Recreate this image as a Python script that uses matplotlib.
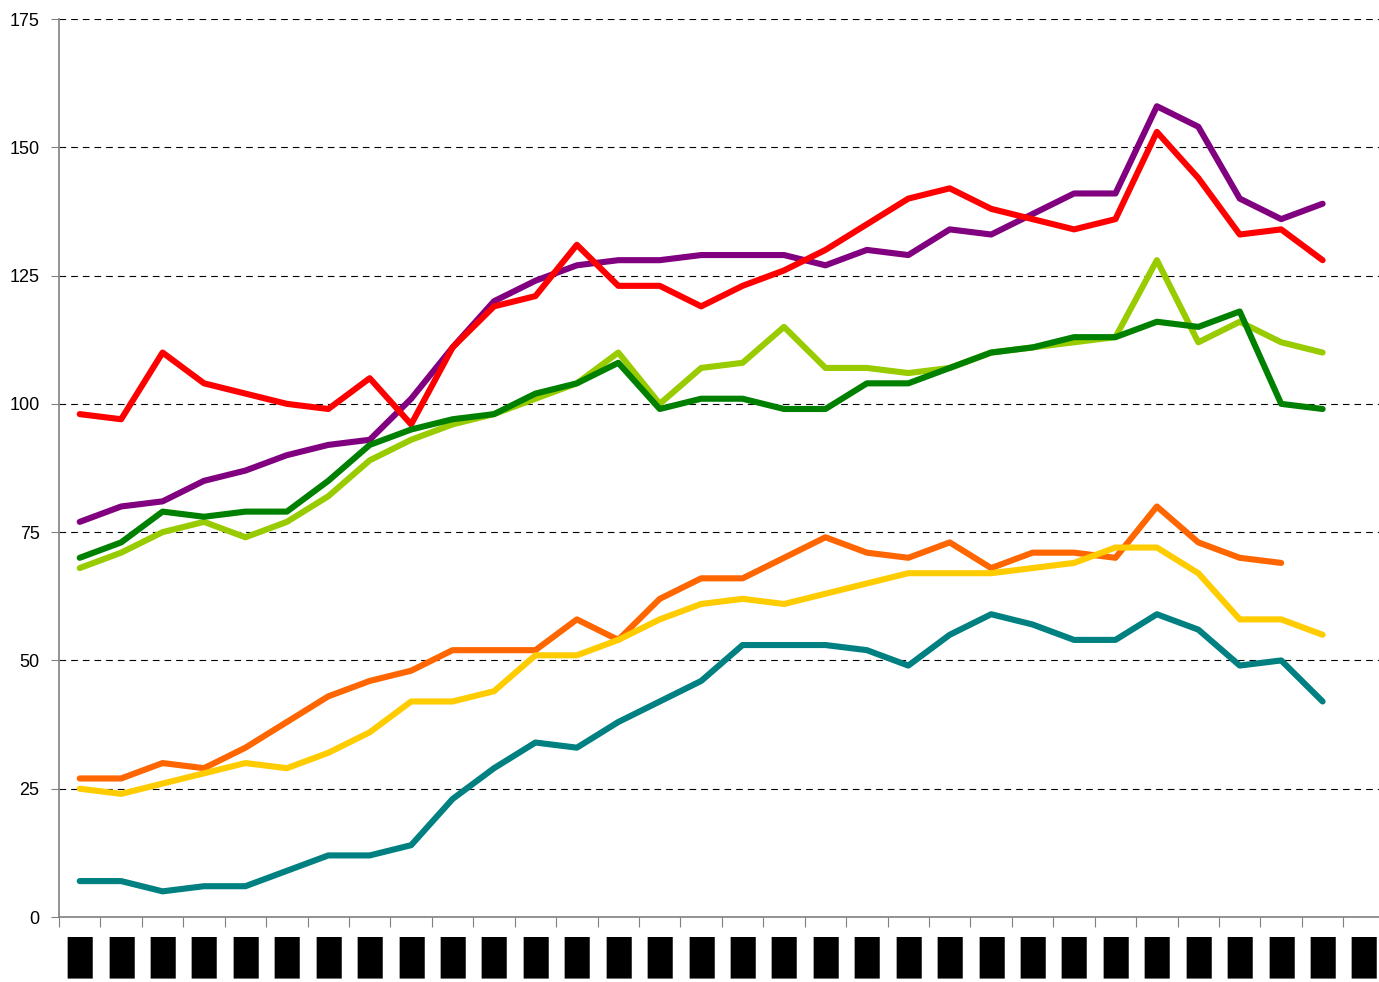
import numpy as np
import matplotlib
matplotlib.use("Agg")
import matplotlib.pyplot as plt
from matplotlib.textpath import TextPath
from matplotlib.font_manager import FontProperties

nan = np.nan
categories = ["\u2588"] * 32  # redacted labels in the source

purple = [77, 80, 81, 85, 87, 90, 92, 93, 101, 111, 120, 124, 127, 128, 128, 129, 129, 129,
          127, 130, 129, 134, 133, 137, 141, 141, 158, 154, 140, 136, 139]
red = [98, 97, 110, 104, 102, 100, 99, 105, 96, 111, 119, 121, 131, 123, 123, 119, 123, 126,
       130, 135, 140, 142, 138, 136, 134, 136, 153, 144, 133, 134, 128]
lightgreen = [68, 71, 75, 77, 74, 77, 82, 89, 93, 96, 98, 101, 104, 110, 100, 107, 108, 115,
              107, 107, 106, 107, 110, 111, 112, 113, 128, 112, 116, 112, 110]
darkgreen = [70, 73, 79, 78, 79, 79, 85, 92, 95, 97, 98, 102, 104, 108, 99, 101, 101, 99,
             99, 104, 104, 107, 110, 111, 113, 113, 116, 115, 118, 100, 99]
orange = [27, 27, 30, 29, 33, 38, 43, 46, 48, 52, 52, 52, 58, 54, 62, 66, 66, 70,
          74, 71, 70, 73, 68, 71, 71, 70, 80, 73, 70, 69, nan]
yellow = [25, 24, 26, 28, 30, 29, 32, 36, 42, 42, 44, 51, 51, 54, 58, 61, 62, 61,
          63, 65, 67, 67, 67, 68, 69, 72, 72, 67, 58, 58, 55]
teal = [7, 7, 5, 6, 6, 9, 12, 12, 14, 23, 29, 34, 33, 38, 42, 46, 53, 53,
        53, 52, 49, 55, 59, 57, 54, 54, 59, 56, 49, 50, 42]

series = [
    (purple, "#800080"),
    (red, "#FF0000"),
    (lightgreen, "#99CC00"),
    (darkgreen, "#008000"),
    (orange, "#FF6600"),
    (yellow, "#FFCC00"),
    (teal, "#008080"),
]

# choose a block glyph/font whose proportions match the redaction boxes (~26 x 42 px)
target_aspect = 26 / 42
best = None
for fam, stretch in [("DejaVu Sans", "normal"), ("DejaVu Sans", "condensed"),
                     ("DejaVu Sans Mono", "normal"), ("Liberation Mono", "normal"),
                     ("Liberation Sans", "normal")]:
    for ch in ["\u2588"]:
        try:
            fp = FontProperties(family=fam, stretch=stretch)
            ext = TextPath((0, 0), ch, size=1, prop=fp).get_extents()
            if ext.width <= 0 or ext.height <= 0:
                continue
            asp = ext.width / ext.height
            score = abs(asp - target_aspect)
            if best is None or score < best[0]:
                best = (score, fam, stretch, ch, ext.height)
        except Exception:
            pass
_, lab_family, lab_stretch, lab_char, lab_h_em = best
lab_size = 42 / lab_h_em * 72 / 100
categories = [lab_char] * 32

W, H = 1379, 982
fig = plt.figure(figsize=(W / 100, H / 100), dpi=100)
left = 59 / W
bottom = (H - 917) / H
top = (H - 19) / H
right_px = 59 + 41.43 * 32
ax = fig.add_axes([left, bottom, (right_px - 59) / W, top - bottom])

x = np.arange(len(purple))
for vals, col in series:
    ax.plot(x, vals, color=col, lw=4.4, solid_joinstyle="round", solid_capstyle="round", zorder=3)

ax.set_xlim(-0.5, 31.5)
ax.set_ylim(0, 175)
ax.set_yticks(np.arange(0, 176, 25))
ax.yaxis.grid(True, color="black", linestyle=(0, (6, 4.5)), lw=0.8)
ax.set_axisbelow(True)

ax.set_xticks(np.arange(-0.5, 31.6, 1), minor=False)
ax.set_xticklabels([])
ax.set_xticks(np.arange(32), minor=True)
ax.set_xticklabels(categories, minor=True, fontsize=lab_size, family=lab_family,
                   stretch=lab_stretch)
ax.tick_params(axis="x", which="major", length=7, color="#808080", direction="out")
ax.tick_params(axis="x", which="minor", length=0, pad=14)
ax.tick_params(axis="y", length=6, color="#808080", labelsize=13, pad=8)
for lab in ax.get_yticklabels():
    lab.set_family("Liberation Sans")

for s in ["top", "right"]:
    ax.spines[s].set_visible(False)
for s in ["left", "bottom"]:
    ax.spines[s].set_color("#808080")
    ax.spines[s].set_linewidth(1.2)

fig.savefig("out.png", dpi=100)
